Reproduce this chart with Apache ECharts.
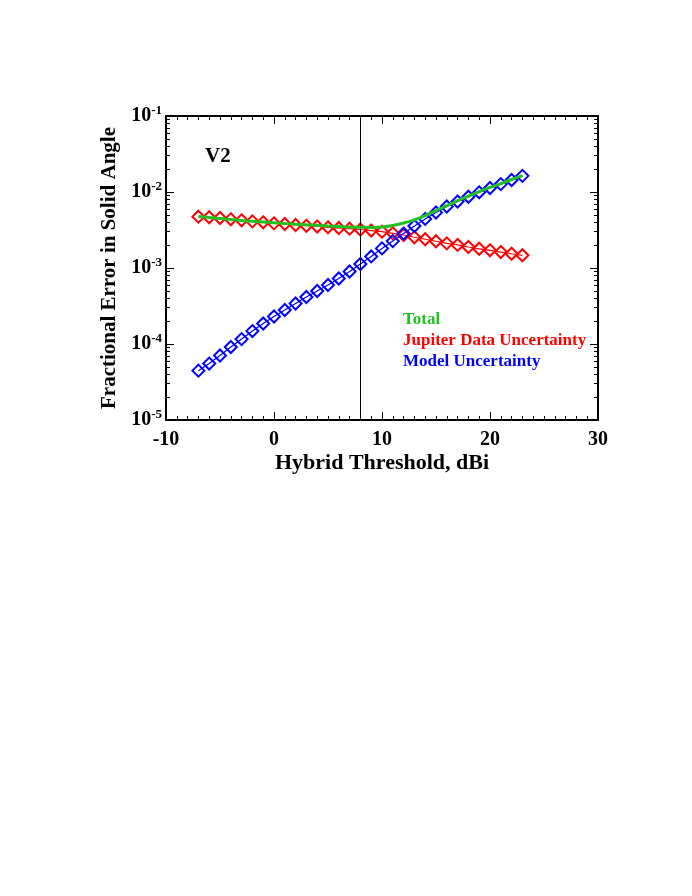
<!DOCTYPE html>
<html>
<head>
<meta charset="utf-8">
<script src="https://cdn.jsdelivr.net/npm/echarts@6/dist/echarts.min.js"></script>
<style>
html,body{margin:0;padding:0;background:#fff;}
#chart{width:692px;height:896px;}
</style>
</head>
<body>
<div id="chart"></div>
<script>
// ---- data ----
const thresholds = [-7,-6,-5,-4,-3,-2,-1,0,1,2,3,4,5,6,7,8,9,10,11,12,13,14,15,16,17,18,19,20,21,22,23];
const jupiterUnc = [4.73e-3,4.65e-3,4.55e-3,4.37e-3,4.24e-3,4.11e-3,3.99e-3,3.87e-3,3.79e-3,3.68e-3,3.60e-3,3.52e-3,3.43e-3,3.36e-3,3.29e-3,3.21e-3,3.11e-3,3.01e-3,2.86e-3,2.72e-3,2.54e-3,2.39e-3,2.25e-3,2.11e-3,2.01e-3,1.89e-3,1.79e-3,1.71e-3,1.62e-3,1.54e-3,1.47e-3];
const modelUnc = [4.46e-5,5.53e-5,7.06e-5,9.14e-5,1.16e-4,1.48e-4,1.86e-4,2.30e-4,2.80e-4,3.41e-4,4.15e-4,4.98e-4,5.97e-4,7.28e-4,8.99e-4,1.13e-3,1.42e-3,1.81e-3,2.26e-3,2.84e-3,3.57e-3,4.42e-3,5.37e-3,6.44e-3,7.50e-3,8.65e-3,9.91e-3,1.13e-2,1.27e-2,1.44e-2,1.63e-2];
const totalUnc = [4.76e-3,4.61e-3,4.48e-3,4.35e-3,4.22e-3,4.11e-3,4.03e-3,3.94e-3,3.85e-3,3.77e-3,3.70e-3,3.64e-3,3.57e-3,3.52e-3,3.46e-3,3.43e-3,3.41e-3,3.46e-3,3.62e-3,3.91e-3,4.30e-3,4.90e-3,5.70e-3,6.60e-3,7.70e-3,8.80e-3,1.01e-2,1.15e-2,1.29e-2,1.46e-2,1.64e-2];
const xTicks = [-10, 0, 10, 20, 30];
const yMinorTicks = [2e-5,3e-5,4e-5,5e-5,6e-5,7e-5,8e-5,9e-5,2e-4,3e-4,4e-4,5e-4,6e-4,7e-4,8e-4,9e-4,2e-3,3e-3,4e-3,5e-3,6e-3,7e-3,8e-3,9e-3,2e-2,3e-2,4e-2,5e-2,6e-2,7e-2,8e-2,9e-2];
const markerLine = 8;
const panelLabel = 'V2';
const names = ['Total', 'Jupiter Data Uncertainty', 'Model Uncertainty'];
// ---------------------------------------

const FONT = '"Liberation Serif", serif';
const pairs = arr => thresholds.map((t, i) => [t, arr[i]]);

const chart = echarts.init(document.getElementById('chart'), null, {renderer: 'canvas'});

function xAxisCfg(pos, showLabel, name) {
  return {
    type: 'value', position: pos, min: xTicks[0], max: xTicks[xTicks.length - 1], interval: 10,
    name: name || '', nameLocation: 'middle', nameGap: 32,
    nameTextStyle: {fontFamily: FONT, fontWeight: 'bold', fontSize: 22, color: '#000'},
    axisLine: {show: true, onZero: false, lineStyle: {color: '#000', width: 2}},
    axisTick: {show: true, inside: true, length: 8, lineStyle: {color: '#000', width: 1}},
    minorTick: {show: true, splitNumber: 10, length: 4, lineStyle: {color: '#000', width: 1}},
    axisLabel: {show: showLabel, margin: 10, fontFamily: FONT, fontWeight: 'bold', fontSize: 20, color: '#000'},
    splitLine: {show: false}, minorSplitLine: {show: false}
  };
}
function yLogMajor(pos, showLabel, name) {
  return {
    type: 'log', logBase: 10, position: pos, min: 1e-5, max: 1e-1,
    name: name || '', nameLocation: 'middle', nameGap: 43,
    nameTextStyle: {fontFamily: FONT, fontWeight: 'bold', fontSize: 21, color: '#000'},
    axisLine: {show: true, onZero: false, lineStyle: {color: '#000', width: 2}},
    axisTick: {show: true, inside: true, length: 8, lineStyle: {color: '#000', width: 1}},
    axisLabel: {
      show: showLabel, margin: 4,
      formatter: v => '{b|10}{s|' + Math.round(Math.log10(v)) + '}',
      rich: {
        b: {fontFamily: FONT, fontWeight: 'bold', fontSize: 20, color: '#000'},
        s: {fontFamily: FONT, fontWeight: 'bold', fontSize: 13, color: '#000', padding: [0, 0, 10, 0]}
      }
    },
    splitLine: {show: false}
  };
}
function yLogMinor(pos) {
  return {
    type: 'log', logBase: 10, position: pos, min: 1e-5, max: 1e-1,
    axisLine: {show: false, onZero: false},
    axisTick: {show: true, inside: true, length: 4, customValues: yMinorTicks, lineStyle: {color: '#000', width: 1}},
    axisLabel: {show: false},
    splitLine: {show: false}
  };
}

chart.setOption({
  animation: false,
  backgroundColor: '#fff',
  grid: {left: 166, right: 94, top: 116, bottom: 476, containLabel: false},
  xAxis: [xAxisCfg('bottom', true, 'Hybrid Threshold, dBi'), xAxisCfg('top', false)],
  yAxis: [yLogMajor('left', true, 'Fractional Error in Solid Angle'), yLogMajor('right', false),
          yLogMinor('left'), yLogMinor('right')],
  legend: {
    orient: 'vertical', left: 398, top: 311, itemGap: 4, itemWidth: 0, itemHeight: 0, padding: 0,
    icon: 'none', selectedMode: false,
    textStyle: {fontFamily: FONT, fontWeight: 'bold', fontSize: 17},
    data: [
      {name: names[0], textStyle: {color: '#22c022'}},
      {name: names[1], textStyle: {color: '#ff0000'}},
      {name: names[2], textStyle: {color: '#0000ff'}}
    ]
  },
  graphic: [{
    type: 'text', left: 205, top: 146,
    style: {text: panelLabel, font: 'bold 21px "Liberation Serif", serif', fill: '#000'}
  }],
  series: [
    {
      name: names[1], type: 'line', data: pairs(jupiterUnc), z: 3,
      symbol: 'diamond', symbolSize: 12, showAllSymbol: true,
      lineStyle: {color: '#ff0000', width: 1.2},
      itemStyle: {color: 'rgba(0,0,0,0)', borderColor: '#ff0000', borderWidth: 2},
      markLine: {
        silent: true, symbol: 'none', label: {show: false},
        lineStyle: {color: '#000', width: 1, type: 'solid'},
        data: [{xAxis: markerLine}]
      }
    },
    {
      name: names[2], type: 'line', data: pairs(modelUnc), z: 4,
      symbol: 'diamond', symbolSize: 12, showAllSymbol: true,
      lineStyle: {color: '#0000ff', width: 1.2},
      itemStyle: {color: 'rgba(0,0,0,0)', borderColor: '#0000ff', borderWidth: 2}
    },
    {
      name: names[0], type: 'line', data: pairs(totalUnc), z: 5,
      symbol: 'none', smooth: 0.3,
      lineStyle: {color: '#22c022', width: 3},
      itemStyle: {color: '#22c022'}
    }
  ]
});
</script>
</body>
</html>
